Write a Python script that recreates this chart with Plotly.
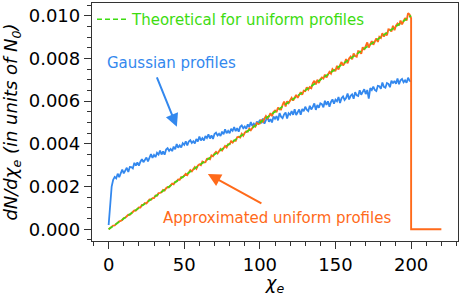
import plotly.graph_objects as go

# ---- data ----
chi_gauss = list(range(0, 201))
gauss = [
    0.00020, 0.00110, 0.00200, 0.00232, 0.00245, 0.00238, 0.00260, 0.00244, 0.00262, 0.00280,
    0.00262, 0.00272, 0.00288, 0.00268, 0.00292, 0.00291, 0.00285, 0.00311, 0.00298, 0.00313,
    0.00298, 0.00316, 0.00328, 0.00314, 0.00323, 0.00336, 0.00318, 0.00339, 0.00352, 0.00334,
    0.00348, 0.00338, 0.00358, 0.00350, 0.00368, 0.00350, 0.00365, 0.00349, 0.00373, 0.00380,
    0.00367, 0.00376, 0.00366, 0.00387, 0.00375, 0.00399, 0.00382, 0.00393, 0.00383, 0.00403,
    0.00395, 0.00412, 0.00393, 0.00411, 0.00417, 0.00404, 0.00412, 0.00402, 0.00423, 0.00411,
    0.00434, 0.00416, 0.00427, 0.00416, 0.00436, 0.00427, 0.00444, 0.00425, 0.00440, 0.00423,
    0.00446, 0.00452, 0.00439, 0.00447, 0.00437, 0.00457, 0.00445, 0.00468, 0.00450, 0.00461,
    0.00450, 0.00470, 0.00461, 0.00478, 0.00459, 0.00474, 0.00457, 0.00480, 0.00486, 0.00473,
    0.00481, 0.00471, 0.00491, 0.00479, 0.00502, 0.00484, 0.00495, 0.00484, 0.00504, 0.00495,
    0.00512, 0.00496, 0.00519, 0.00494, 0.00512, 0.00527, 0.00503, 0.00516, 0.00500, 0.00528,
    0.00517, 0.00530, 0.00510, 0.00544, 0.00527, 0.00520, 0.00538, 0.00547, 0.00519, 0.00543,
    0.00536, 0.00553, 0.00536, 0.00562, 0.00535, 0.00551, 0.00561, 0.00536, 0.00563, 0.00553,
    0.00574, 0.00560, 0.00553, 0.00578, 0.00561, 0.00573, 0.00589, 0.00559, 0.00582, 0.00569,
    0.00590, 0.00586, 0.00571, 0.00602, 0.00582, 0.00599, 0.00574, 0.00596, 0.00608, 0.00588,
    0.00607, 0.00599, 0.00619, 0.00591, 0.00614, 0.00622, 0.00605, 0.00614, 0.00636, 0.00608,
    0.00625, 0.00632, 0.00611, 0.00642, 0.00627, 0.00624, 0.00651, 0.00630, 0.00640, 0.00656,
    0.00633, 0.00652, 0.00612, 0.00661, 0.00652, 0.00668, 0.00652, 0.00647, 0.00672, 0.00670,
    0.00658, 0.00687, 0.00667, 0.00663, 0.00685, 0.00681, 0.00665, 0.00696, 0.00683, 0.00695,
    0.00681, 0.00706, 0.00679, 0.00698, 0.00704, 0.00688, 0.00697, 0.00686, 0.00710, 0.00695,
    0.00692]

chi_unif = list(range(0, 201)) + [200, 220]
unif = [
    0.00000, 0.00006, 0.00009, 0.00017, 0.00018, 0.00026, 0.00030, 0.00037, 0.00039, 0.00043,
    0.00052, 0.00054, 0.00061, 0.00068, 0.00068, 0.00076, 0.00079, 0.00088, 0.00088, 0.00096,
    0.00102, 0.00102, 0.00114, 0.00114, 0.00123, 0.00121, 0.00132, 0.00139, 0.00138, 0.00146,
    0.00146, 0.00158, 0.00157, 0.00169, 0.00170, 0.00173, 0.00184, 0.00181, 0.00192, 0.00198,
    0.00197, 0.00206, 0.00214, 0.00211, 0.00222, 0.00224, 0.00233, 0.00232, 0.00244, 0.00243,
    0.00251, 0.00260, 0.00254, 0.00267, 0.00277, 0.00271, 0.00279, 0.00291, 0.00283, 0.00298,
    0.00304, 0.00300, 0.00317, 0.00313, 0.00314, 0.00330, 0.00331, 0.00328, 0.00346, 0.00342,
    0.00354, 0.00362, 0.00355, 0.00364, 0.00376, 0.00369, 0.00382, 0.00390, 0.00383, 0.00398,
    0.00398, 0.00412, 0.00406, 0.00416, 0.00414, 0.00431, 0.00433, 0.00430, 0.00447, 0.00438,
    0.00452, 0.00459, 0.00457, 0.00471, 0.00464, 0.00476, 0.00485, 0.00481, 0.00497, 0.00493,
    0.00495, 0.00513, 0.00501, 0.00518, 0.00530, 0.00519, 0.00528, 0.00544, 0.00530, 0.00549,
    0.00556, 0.00548, 0.00570, 0.00562, 0.00561, 0.00582, 0.00598, 0.00575, 0.00599, 0.00591,
    0.00606, 0.00615, 0.00603, 0.00614, 0.00629, 0.00616, 0.00633, 0.00642, 0.00630, 0.00649,
    0.00647, 0.00665, 0.00654, 0.00666, 0.00661, 0.00684, 0.00695, 0.00678, 0.00700, 0.00685,
    0.00703, 0.00711, 0.00706, 0.00724, 0.00711, 0.00726, 0.00737, 0.00729, 0.00750, 0.00742,
    0.00743, 0.00765, 0.00748, 0.00769, 0.00783, 0.00767, 0.00777, 0.00797, 0.00777, 0.00800,
    0.00808, 0.00796, 0.00823, 0.00811, 0.00808, 0.00834, 0.00832, 0.00822, 0.00852, 0.00840,
    0.00857, 0.00875, 0.00851, 0.00863, 0.00881, 0.00864, 0.00884, 0.00894, 0.00877, 0.00901,
    0.00896, 0.00918, 0.00902, 0.00916, 0.00908, 0.00936, 0.00935, 0.00926, 0.00953, 0.00932,
    0.00953, 0.00963, 0.00954, 0.00977, 0.00959, 0.00977, 0.00989, 0.00977, 0.01012, 0.01005,
    0.00988, 0.00000, 0.00000]

chi_theory = [0, 200]
theory = [0.0, 0.0100]

BLUE = "#3388ee"
ORANGE = "#ff6a1a"
GREEN = "#3ddc10"
FONT = "DejaVu Sans"

fig = go.Figure()
fig.add_trace(go.Scatter(x=chi_gauss, y=gauss, mode="lines",
                         line=dict(color=BLUE, width=1.8), showlegend=False))
fig.add_trace(go.Scatter(x=chi_unif, y=unif, mode="lines",
                         line=dict(color=ORANGE, width=1.9), showlegend=False))
fig.add_trace(go.Scatter(x=chi_theory, y=theory, mode="lines",
                         line=dict(color=GREEN, width=1.6, dash="5px,3px"),
                         name="Theoretical for uniform profiles", showlegend=True))

# annotations: text + arrows
fig.add_annotation(x=41.6, y=0.00778, text="Gaussian profiles", showarrow=False,
                   font=dict(family=FONT, size=15, color=BLUE))
fig.add_annotation(x=45.1, y=0.0048, ax=31.5, ay=0.00718, axref="x", ayref="y",
                   text="", showarrow=True, arrowhead=2, arrowsize=1.3, arrowwidth=2,
                   arrowcolor=BLUE)
fig.add_annotation(x=111, y=0.00053, text="Approximated uniform profiles", showarrow=False,
                   font=dict(family=FONT, size=15, color=ORANGE))
fig.add_annotation(x=65.6, y=0.00259, ax=102, ay=0.00117, axref="x", ayref="y",
                   text="", showarrow=True, arrowhead=2, arrowsize=1.3, arrowwidth=2,
                   arrowcolor=ORANGE)

axis_common = dict(showline=True, linecolor="#333333", linewidth=1.3, mirror=True,
                   ticks="outside", ticklen=7, tickwidth=1.2, tickcolor="#333333",
                   showgrid=False, zeroline=False,
                   tickfont=dict(family=FONT, size=18, color="black"))

fig.update_xaxes(range=[-11, 231], dtick=50, tick0=0,
                 minor=dict(ticks="outside", ticklen=4, dtick=10, tick0=0,
                            tickcolor="#333333", tickwidth=1),
                 title=dict(text="<i>χ<sub>e</sub></i>", font=dict(family=FONT, size=18, color="black"),
                            standoff=5),
                 **axis_common)
fig.update_yaxes(range=[-0.00055, 0.010595], dtick=0.002, tick0=0, tickformat=".3f",
                 minor=dict(ticks="outside", ticklen=4, dtick=0.0005, tick0=0,
                            tickcolor="#333333", tickwidth=1),
                 title=dict(text="<i>dN/dχ<sub>e</sub> (in units of N<sub>0</sub>)</i>",
                            font=dict(family=FONT, size=18, color="black"), standoff=6),
                 **axis_common)

fig.update_layout(width=463, height=296,
                  margin=dict(l=92, r=5, t=3, b=55, autoexpand=False),
                  paper_bgcolor="white", plot_bgcolor="white",
                  legend=dict(x=0.0, y=1.0, xanchor="left", yanchor="top",
                              bgcolor="rgba(0,0,0,0)",
                              font=dict(family=FONT, size=15, color=GREEN)),
                  font=dict(family=FONT))

fig.write_html("out.html", config={"displayModeBar": False},
               post_script="document.body.style.margin='0';document.body.style.overflow='hidden';")
